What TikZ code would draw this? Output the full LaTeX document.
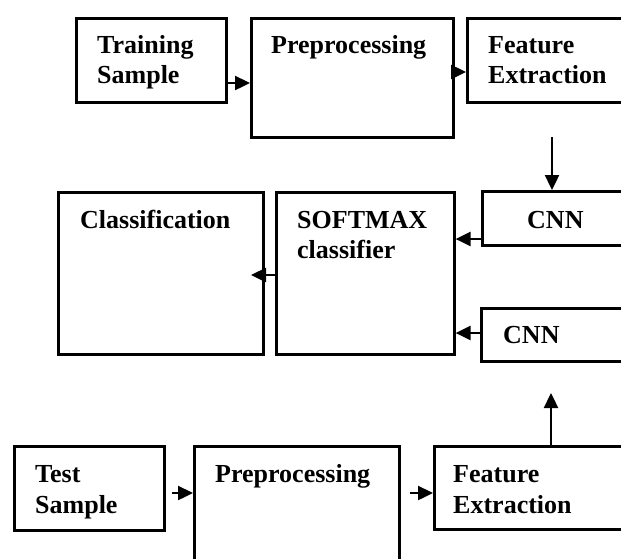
\documentclass[tikz,border=0pt]{standalone}
\usepackage{fontspec}
\setmainfont{Liberation Serif}
\usetikzlibrary{arrows.meta}
\begin{document}
\begin{tikzpicture}[x=1pt,y=-1pt,
  box/.style={draw,line width=2.6pt,rectangle,inner sep=0pt,anchor=north west},
  lbl/.style={anchor=base west,inner sep=0pt,font=\fontsize{26}{31}\selectfont\bfseries},
  arr/.style={line width=2.4pt,-{Triangle[length=15pt,width=14pt]}}]
\useasboundingbox (0,0) rectangle (621,558);
\clip (0,0) rectangle (621,558);
% boxes
\node[box,minimum width=150pt,minimum height=84pt] (ts) at (75,17) {};
\node[box,minimum width=202pt,minimum height=119pt] (pp) at (250,17) {};
\node[box,minimum width=180pt,minimum height=84pt] (fe) at (466,17) {};
\node[box,minimum width=165pt,minimum height=54pt] (cnna) at (481,190) {};
\node[box,minimum width=205pt,minimum height=162pt] (cls) at (57,191) {};
\node[box,minimum width=178pt,minimum height=162pt] (sm) at (275,191) {};
\node[box,minimum width=165pt,minimum height=53pt] (cnnb) at (480,307) {};
\node[box,minimum width=150pt,minimum height=84pt] (tsb) at (13,445) {};
\node[box,minimum width=205pt,minimum height=140pt] (ppb) at (193,445) {};
\node[box,minimum width=210pt,minimum height=83pt] (feb) at (433,445) {};
% labels
\node[lbl] (t1) at (97,53) {Training};
\node[lbl] (t2) at (97,83) {Sample};
\node[lbl] (t3) at (271,53) {Preprocessing};
\node[lbl] (t4) at (488,53) {Feature};
\node[lbl] (t5) at (488,83) {Extraction};
\node[lbl] (t6) at (527,228) {CNN};
\node[lbl] (t7) at (80,228) {Classification};
\node[lbl] (t8) at (297,228) {SOFTMAX};
\node[lbl] (t9) at (297,258) {classifier};
\node[lbl] (t10) at (503,343) {CNN};
\node[lbl] (t11) at (35,482) {Test};
\node[lbl] (t12) at (35,513) {Sample};
\node[lbl] (t13) at (215,482) {Preprocessing};
\node[lbl] (t14) at (453,482) {Feature};
\node[lbl] (t15) at (453,513) {Extraction};
% connectors
\coordinate (fedown) at (552,137);
\coordinate (feup) at (551,393);
\coordinate (clsin) at (251,275);
\draw[arr] (ts.east |- 0,83) -- (pp.west |- 0,83);
\draw[arr] (pp.east |- 0,72) -- (fe.west |- 0,72);
\draw[arr] (fedown) -- (fedown |- cnna.north);
\draw[arr] (cnna.west |- 0,239) -- (sm.east |- 0,239);
\draw[arr] (sm.west |- 0,275) -- (clsin);
\draw[arr] (cnnb.west |- 0,333) -- (sm.east |- 0,333);
\draw[arr] (feb.north -| feup) -- (feup);
\draw[arr] (tsb.east |- 0,493) ++(6,0) -- (ppb.west |- 0,493);
\draw[arr] (ppb.east |- 0,493) ++(9,0) -- (feb.west |- 0,493);
\end{tikzpicture}
\end{document}
